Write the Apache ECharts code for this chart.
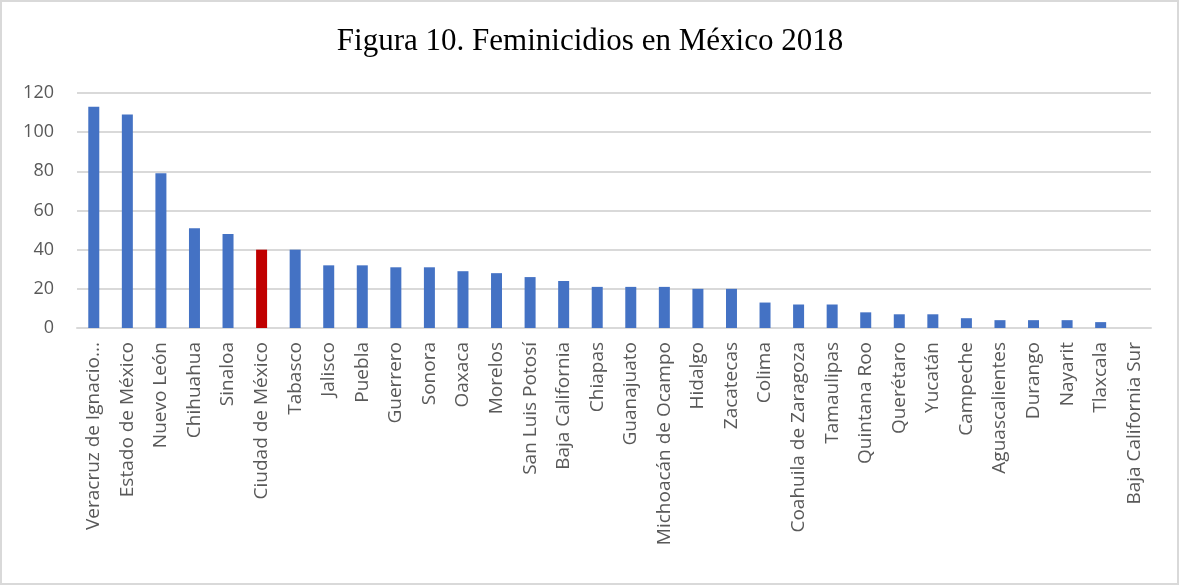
<!DOCTYPE html>
<html>
<head>
<meta charset="utf-8">
<script src="https://cdn.jsdelivr.net/npm/echarts@6/dist/echarts.min.js"></script>
<style>
html,body{margin:0;padding:0;background:#fff;}
#chart{width:1180px;height:586px;}
</style>
</head>
<body>
<div id="chart"></div>
<script>
const titleText = 'Figura 10. Feminicidios en México 2018';
const categories = ['Veracruz de Ignacio...', 'Estado de México', 'Nuevo León', 'Chihuahua', 'Sinaloa', 'Ciudad de México', 'Tabasco', 'Jalisco', 'Puebla', 'Guerrero', 'Sonora', 'Oaxaca', 'Morelos', 'San Luis Potosí', 'Baja California', 'Chiapas', 'Guanajuato', 'Michoacán de Ocampo', 'Hidalgo', 'Zacatecas', 'Colima', 'Coahuila de Zaragoza', 'Tamaulipas', 'Quintana Roo', 'Querétaro', 'Yucatán', 'Campeche', 'Aguascalientes', 'Durango', 'Nayarit', 'Tlaxcala', 'Baja California Sur'];
const values = [113, 109, 79, 51, 48, 40, 40, 32, 32, 31, 31, 29, 28, 26, 24, 21, 21, 21, 20, 20, 13, 12, 12, 8, 7, 7, 5, 4, 4, 4, 3, 0];
const highlighted = 'Ciudad de México';
const yTicks = [0, 20, 40, 60, 80, 100, 120];

const chart = echarts.init(document.getElementById('chart'), null, {renderer: 'canvas'});
const option = {
  animation: false,
  backgroundColor: '#ffffff',
  graphic: [{
    type: 'rect',
    shape: {x: 1, y: 1, width: 1177, height: 583},
    style: {fill: 'none', stroke: '#d9d9d9', lineWidth: 2},
    silent: true
  }],
  title: {
    text: titleText,
    left: 'center',
    top: 21,
    textStyle: {fontFamily: 'Liberation Serif', fontSize: 31, fontWeight: 'normal', color: '#000000'}
  },
  grid: {left: 77, right: 29, top: 93, bottom: 258, containLabel: false},
  xAxis: {
    type: 'category',
    data: categories,
    axisTick: {show: false},
    axisLine: {show: true, lineStyle: {color: '#d9d9d9', width: 2}},
    axisLabel: {
      interval: 0,
      rotate: 90,
      margin: 14,
      fontFamily: 'Open Sans',
      fontSize: 19,
      color: '#595959'
    }
  },
  yAxis: {
    type: 'value',
    min: yTicks[0],
    max: yTicks[yTicks.length - 1],
    interval: 20,
    axisLine: {show: false},
    axisTick: {show: false},
    splitLine: {lineStyle: {color: '#d9d9d9', width: 2}},
    axisLabel: {
      margin: 23,
      fontFamily: 'Open Sans',
      fontSize: 18,
      color: '#595959'
    }
  },
  series: [{
    type: 'bar',
    barWidth: 11,
    data: values.map((v, i) => ({
      value: v,
      itemStyle: {color: categories[i] === highlighted ? '#C00000' : '#4472C4'}
    }))
  }]
};
chart.setOption(option);
</script>
</body>
</html>
